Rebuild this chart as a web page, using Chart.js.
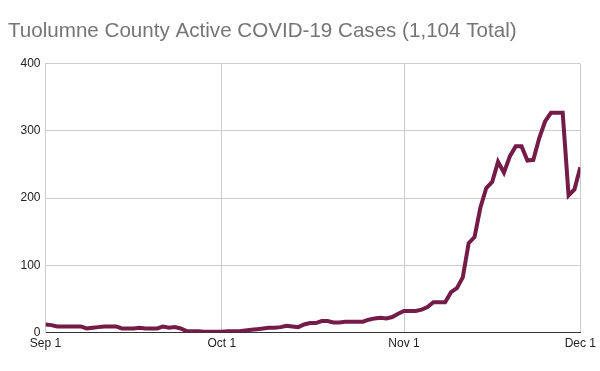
<!DOCTYPE html>
<html>
<head>
<meta charset="utf-8">
<script src="https://cdn.jsdelivr.net/npm/chart.js@4.4.1/dist/chart.umd.min.js"></script>
<style>
    html, body { margin: 0; padding: 0; background: #fff; }
    #wrap { width: 600px; height: 371px; position: relative; }
</style>
</head>
<body>
<div id="wrap"><canvas id="casesChart" width="600" height="371"></canvas></div>
<script>
// Data (day 0 = Sep 1, day 91 = Dec 1)
const titleText = 'Tuolumne County Active COVID-19 Cases (1,104 Total)';
const activeCases = [
    12, 11, 9, 9, 9, 9, 9, 6, 7, 8,
    9, 9, 9, 6, 6, 6, 7, 6, 6, 6,
    9, 7, 8, 6, 2, 2, 2, 1, 1, 1,
    1, 2, 2, 2, 3, 4, 5, 6, 7, 7,
    8, 10, 9, 8, 12, 14, 14, 17, 17, 15,
    15, 16, 16, 16, 16, 19, 21, 22, 21, 23,
    28, 32, 32, 32, 34, 38, 45, 45, 45, 60,
    66, 82, 133, 142, 186, 215, 224, 254, 238, 262,
    277, 277, 256, 257, 289, 314, 327, 327, 327, 204,
    213, 246
];
const tickDays = [0, 30, 61, 91];
const tickLabels = ['Sep 1', 'Oct 1', 'Nov 1', 'Dec 1'];
const yTicks = [0, 100, 200, 300, 400];

const points = activeCases.map((v, i) => ({ x: i, y: v }));

const ctx = document.getElementById('casesChart');
new Chart(ctx, {
    type: 'line',
    data: {
        datasets: [{
            data: points,
            borderColor: '#741b47',
            borderWidth: 4,
            pointRadius: 0,
            tension: 0,
            fill: false
        }]
    },
    options: {
        responsive: false,
        animation: false,
        devicePixelRatio: 1,
        layout: { padding: { left: 8, right: 18, top: 0, bottom: 0 } },
        plugins: {
            legend: { display: false },
            tooltip: { enabled: false },
            title: {
                display: true,
                text: titleText,
                align: 'start',
                color: '#757575',
                font: { family: "'Liberation Sans', Arial, sans-serif", size: 20.6, weight: 'normal' },
                padding: { top: 19, bottom: 20 }
            }
        },
        scales: {
            x: {
                type: 'linear',
                min: 0,
                max: 91,
                afterBuildTicks: s => { s.ticks = tickDays.map(v => ({ value: v })); },
                afterFit: s => { s.height = 38.5; },
                ticks: {
                    autoSkip: false,
                    maxRotation: 0,
                    padding: 4,
                    color: '#222',
                    font: { family: "'Liberation Sans', Arial, sans-serif", size: 12 },
                    callback: v => tickLabels[tickDays.indexOf(v)]
                },
                grid: { color: '#cccccc', drawTicks: false },
                border: { color: '#333333', width: 1 }
            },
            y: {
                min: 0,
                max: 400,
                afterBuildTicks: s => { s.ticks = yTicks.map(v => ({ value: v })); },
                afterFit: s => { s.width = 37.5; },
                ticks: {
                    padding: 5,
                    color: '#222',
                    font: { family: "'Liberation Sans', Arial, sans-serif", size: 12 }
                },
                grid: { color: '#cccccc', drawTicks: false },
                border: { color: '#cccccc', width: 1 }
            }
        }
    }
});
</script>
</body>
</html>
